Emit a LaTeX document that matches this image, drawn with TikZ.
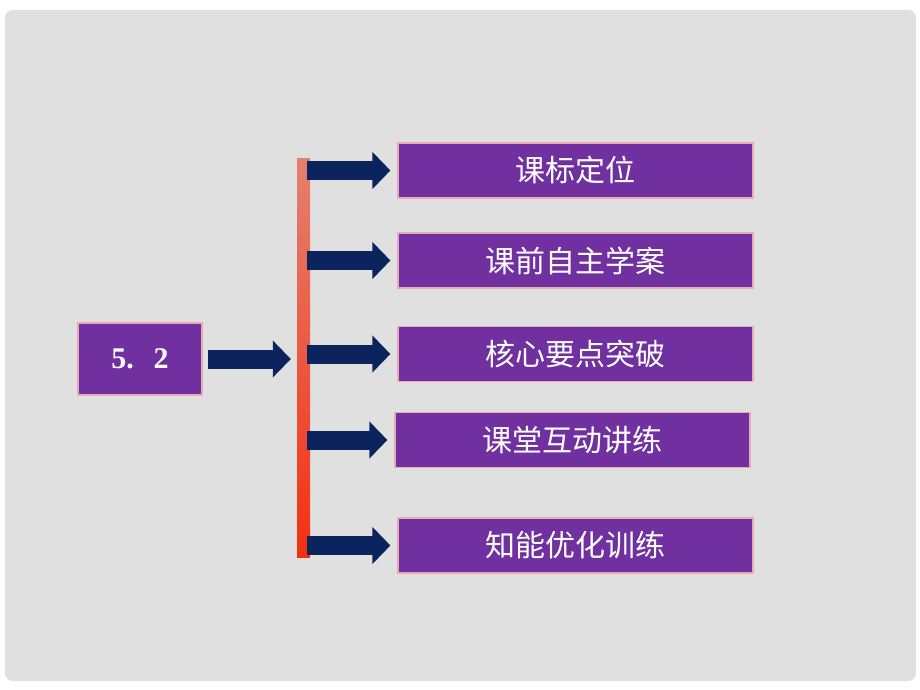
\documentclass[tikz,border=0pt]{standalone}
\usepackage{fontspec}
\setmainfont{Liberation Serif}
\newfontfamily\cjk{Noto Sans CJK SC}
\usepackage{xcolor}
\usetikzlibrary{arrows.meta,positioning,calc}
\definecolor{slidegray}{RGB}{224,224,224}
\definecolor{boxpurple}{RGB}{112,48,160}
\definecolor{boxrim}{RGB}{232,170,180}
\definecolor{navyarrow}{RGB}{12,36,94}
\definecolor{bartop}{RGB}{228,128,112}
\definecolor{barmid}{RGB}{190,56,40}
\definecolor{barbot}{RGB}{244,48,16}

\begin{document}
\begin{tikzpicture}[x=1pt,y=-1pt,
  item/.style={draw=boxrim,line width=1.2pt,fill=boxpurple,text=white,inner sep=0pt,
    minimum width=355pt,minimum height=55pt,font=\cjk\fontsize{30}{30}\selectfont},
  arr/.style={draw=navyarrow,line width=19pt,-{Triangle[width=36pt,length=18pt]}}]
\useasboundingbox (0,0) rectangle (920,690);
\fill[white] (0,0) rectangle (920,690);
\fill[slidegray,rounded corners=8pt] (5,10) rectangle (916,681);
% left box and the bar
\node[draw=boxrim,line width=1.2pt,fill=boxpurple,text=white,inner sep=0pt,
  minimum width=124pt,minimum height=72pt,font=\bfseries\fontsize{30}{30}\selectfont]
  (main) at (140,359) {5.\hspace{20pt}2};
\node[inner sep=0pt,minimum width=13pt,minimum height=399pt,
  top color=bartop,middle color=barmid,bottom color=barbot] (bar) at (303.5,357.5) {};
% the five items
\node[item] (b1) at (575.5,170.5) {课标定位};
\node[item] (b2) at (575.5,260.5) {课前自主学案};
\node[item] (b3) at (575.5,354) {核心要点突破};
\node[item] (b4) at (572.5,440) {课堂互动讲练};
\node[item] (b5) at (575.5,545.5) {知能优化训练};
\draw[arr,shorten <=5pt,shorten >=6pt] (main.east) -- (main.east -| bar.west);
\foreach \b in {b1,b2,b3,b4,b5}
  \draw[arr,shorten <=-3pt,shorten >=7pt] (bar.east |- \b.west) -- (\b.west);
\end{tikzpicture}
\end{document}
